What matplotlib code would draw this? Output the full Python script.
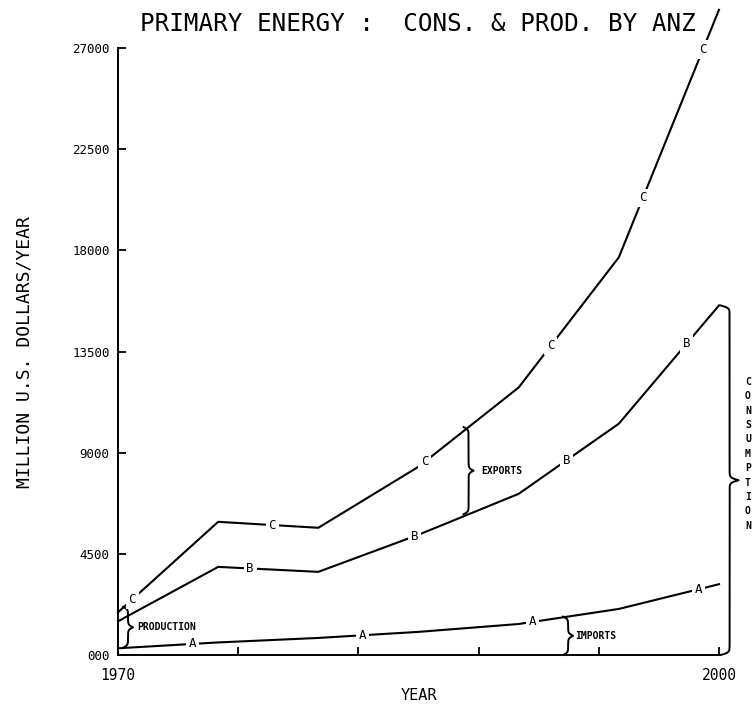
import numpy as np
import matplotlib
matplotlib.use('Agg')
import matplotlib.pyplot as plt

# ---- data ----
years = [1970, 1975, 1980, 1985, 1990, 1995, 2000]
series_a = [300, 560, 760, 1030, 1380, 2050, 3150]          # imports
series_b = [1500, 3920, 3700, 5350, 7170, 10290, 15550]     # consumption
series_c = [1900, 5925, 5660, 8375, 11900, 17690, 28700]    # production + exports

y_ticks = [0, 4500, 9000, 13500, 18000, 22500, 27000]
y_tick_labels = ['000', '4500', '9000', '13500', '18000', '22500', '27000']
x_ticks = [1970, 1976, 1982, 1988, 1994, 2000]
x_tick_labels = ['1970', '', '', '', '', '2000']

title = 'PRIMARY ENERGY :  CONS. & PROD. BY ANZ'
mono = 'DejaVu Sans Mono'

fig = plt.figure(figsize=(7.55, 7.06), dpi=100)
ax = fig.add_axes([0.1563, 0.0722, 0.796, 0.8598])
ax.set_xlim(1970, 2000)
ax.set_ylim(0, 27000)

lw = 1.5
letters = {'C': ([1970.7, 1977.7, 1985.3, 1991.6, 1996.2, 1999.2], series_c),
           'B': ([1976.6, 1984.8, 1992.4, 1998.4], series_b),
           'A': ([1973.7, 1982.2, 1990.7, 1999.0], series_a)}
for name, (lx, vals) in letters.items():
    ax.plot(years, vals, color='black', lw=lw, clip_on=False, zorder=2)
    for x in lx:
        ax.text(x, np.interp(x, years, vals), name, ha='center', va='center',
                fontsize=9, family=mono, zorder=3,
                bbox=dict(boxstyle='square,pad=0.22', fc='white', ec='none'))

# ---- braces ----
px_per_val = 607 / 27000.0

def brace(x0, w, y0, y1):
    h_px = abs(y1 - y0) * px_per_val
    beta = 0.8 * h_px
    t = np.linspace(0, 0.5, 300)
    xh = 1 / (1 + np.exp(-beta * (t - t[0]))) + 1 / (1 + np.exp(-beta * (t - t[-1])))
    xs = np.concatenate([xh, xh[-2::-1]]) - 0.5
    ys = np.linspace(0, 1, len(xs))
    ax.plot(x0 + w * xs, y0 + (y1 - y0) * ys, color='black', lw=1.4,
            clip_on=False, zorder=2)
    return x0 + w, (y0 + y1) / 2

# production
xb = 1970.5
tip, mid = brace(xb - 0.25, 0.5, np.interp(xb, years, series_a), np.interp(xb, years, series_b) + 400)
ax.text(1970.95, mid, 'PRODUCTION', fontsize=7, family=mono, fontweight='bold',
        ha='left', va='center')
# exports
xb = 1987.5
tip, mid = brace(xb - 0.25, 0.5, np.interp(xb, years, series_b), np.interp(xb, years, series_c))
ax.text(1988.15, mid, 'EXPORTS', fontsize=7, family=mono, fontweight='bold',
        ha='left', va='center')
# imports
xb = 1992.47
tip, mid = brace(xb - 0.25, 0.5, 0, np.interp(xb, years, series_a))
ax.text(1992.8, mid, 'IMPORTS', fontsize=7, family=mono, fontweight='bold',
        ha='left', va='center')
# consumption
xb = 2000.5
tip, mid = brace(xb - 0.42, 0.9, 0, series_b[-1])
ax.text(2001.45, 8950, '\n'.join('CONSUMPTION'), fontsize=7, family=mono,
        fontweight='bold', ha='center', va='center', linespacing=1.55,
        clip_on=False)

# ---- axes styling ----
for s in ['top', 'right']:
    ax.spines[s].set_visible(False)
for s in ['left', 'bottom']:
    ax.spines[s].set_linewidth(1.4)
ax.set_yticks(y_ticks)
ax.set_yticklabels(y_tick_labels, family=mono, fontsize=9)
ax.set_xticks(x_ticks)
ax.set_xticklabels(x_tick_labels, family=mono, fontsize=10.5)
ax.tick_params(axis='both', direction='in', length=6, width=1.3)
ax.tick_params(axis='y', pad=6)
ax.tick_params(axis='x', pad=9)

ax.set_xlabel('YEAR', family=mono, fontsize=11, labelpad=4)
fig.text(0.032, 1 - 352 / 706, 'MILLION U.S. DOLLARS/YEAR', rotation=90,
         family=mono, fontsize=13, ha='center', va='center')
fig.text(0.553, 0.966, title, family=mono, fontsize=17.5, ha='center', va='center')

fig.savefig('out.png', dpi=100, facecolor='white')
